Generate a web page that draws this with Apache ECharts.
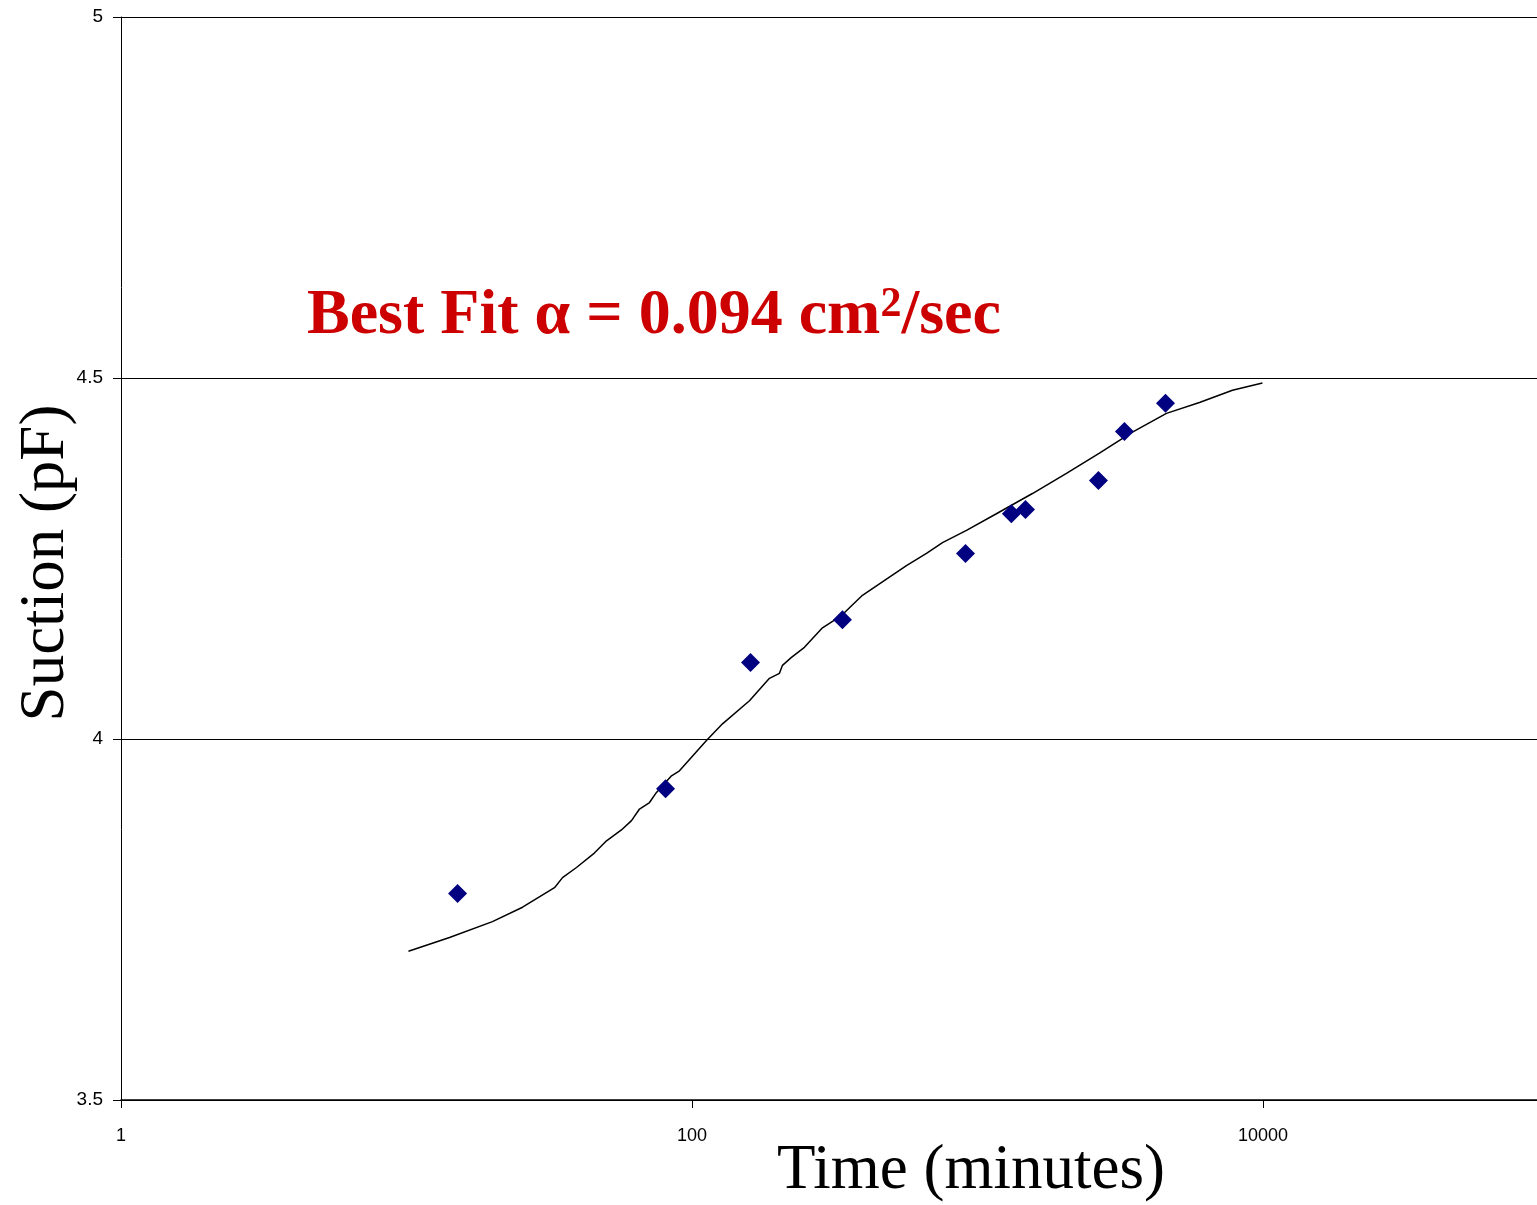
<!DOCTYPE html>
<html>
<head>
<meta charset="utf-8">
<script src="https://cdn.jsdelivr.net/npm/echarts@6/dist/echarts.min.js"></script>
<style>
  html, body { margin: 0; padding: 0; background: #fff; }
  #chart { width: 1537px; height: 1205px; }
</style>
</head>
<body>
<div id="chart"></div>
<script>
// ---- Data ----
const xTickLabels = [1, 100, 10000];
const yTickLabels = [3.5, 4, 4.5, 5];

// Measured suction points (time in minutes, suction in pF)
const obsTime    = [15.1, 80.8, 160.3, 336.6, 908, 1315, 1473, 2653, 3273, 4557];
const obsSuction = [3.786, 3.931, 4.106, 4.165, 4.257, 4.312, 4.318, 4.358, 4.426, 4.465];

// Best-fit model curve
const fitTime = [10.16, 14.15, 20.0, 25.5, 33.0, 35.2, 39.4, 45.5, 50.2, 56.6, 61.4, 65.5, 71.0, 75.1,
  84.8, 90.4, 112.4, 127.9, 159.0, 186.8, 202.5, 207.5, 223.1, 247.7, 286.5, 333.9, 395.5, 453.6,
  564.0, 662.8, 754.3, 915.2, 1165, 1558, 2050, 2675, 3491, 4592, 5993, 7820, 9959];
const fitSuction = [3.706, 3.725, 3.747, 3.767, 3.794, 3.808, 3.822, 3.842, 3.859, 3.874, 3.887, 3.903, 3.912, 3.926,
  3.949, 3.956, 3.998, 4.021, 4.053, 4.084, 4.091, 4.102, 4.113, 4.127, 4.154, 4.171, 4.199, 4.215,
  4.240, 4.257, 4.272, 4.289, 4.312, 4.340, 4.368, 4.396, 4.425, 4.451, 4.466, 4.483, 4.493];

const xTitle = 'Time (minutes)';
const yTitle = 'Suction (pF)';

// ---- Build ----
const chart = echarts.init(document.getElementById('chart'), null, { renderer: 'canvas' });

const obsData = obsTime.map((t, i) => [t, obsSuction[i]]);
const fitData = fitTime.map((t, i) => [t, fitSuction[i]]);

const option = {
  backgroundColor: '#ffffff',
  animation: false,
  grid: { left: 121, right: 0, top: 17, bottom: 105, containLabel: false },
  xAxis: {
    type: 'log',
    logBase: 10,
    min: 1,
    max: 91200,
    interval: 2,
    axisLine: { show: true, lineStyle: { color: '#000', width: 1.5 } },
    axisTick: { show: true, inside: false, length: 8, lineStyle: { color: '#000', width: 1 } },
    minorTick: { show: false },
    splitLine: { show: false },
    axisLabel: {
      show: true,
      margin: 27,
      showMaxLabel: false,
      color: '#000',
      fontSize: 18,
      fontFamily: "'Liberation Sans Narrow', 'Liberation Sans', Arial, sans-serif",
      formatter: function (v) {
        const r = Math.round(v);
        return xTickLabels.indexOf(r) >= 0 ? String(r) : '';
      }
    }
  },
  yAxis: {
    type: 'value',
    min: 3.5,
    max: 5,
    interval: 0.5,
    axisLine: { show: true, lineStyle: { color: '#000', width: 1 } },
    axisTick: { show: true, inside: false, length: 8, lineStyle: { color: '#000', width: 1 } },
    splitLine: { show: true, lineStyle: { color: '#000', width: 1 } },
    axisLabel: {
      margin: 18,
      color: '#000',
      fontSize: 19,
      fontFamily: "'Liberation Sans', Arial, sans-serif",
      formatter: function (v) {
        const r = Math.round(v * 10) / 10;
        return yTickLabels.indexOf(r) >= 0 ? String(r) : '';
      }
    }
  },
  series: [
    {
      name: 'Best fit',
      type: 'line',
      data: fitData,
      showSymbol: false,
      symbol: 'none',
      smooth: false,
      lineStyle: { color: '#000', width: 1.5 },
      z: 2
    },
    {
      name: 'Measured',
      type: 'scatter',
      data: obsData,
      symbol: 'diamond',
      symbolSize: 19,
      itemStyle: { color: '#000080', opacity: 1 },
      z: 3
    }
  ],
  graphic: [
    {
      type: 'text',
      left: 972 - 195,
      top: 1140,
      style: {
        text: xTitle,
        fill: '#000',
        font: "63px 'Liberation Serif', 'Times New Roman', serif"
      }
    },
    {
      type: 'text',
      x: 46,
      y: 563,
      rotation: Math.PI / 2,
      style: {
        text: yTitle,
        fill: '#000',
        font: "63px 'Liberation Serif', 'Times New Roman', serif",
        align: 'center',
        verticalAlign: 'middle'
      }
    },
    {
      type: 'text',
      x: 307,
      y: 284,
      style: {
        text: '{a|Best Fit α = 0.094 cm}{s|2}{a|/sec}',
        rich: {
          a: { fontSize: 64, fontWeight: 'bold', fontFamily: "'Liberation Serif', 'Times New Roman', serif", fill: '#CC0000', color: '#CC0000', verticalAlign: 'bottom' },
          s: { fontSize: 42, fontWeight: 'bold', fontFamily: "'Liberation Serif', 'Times New Roman', serif", fill: '#CC0000', color: '#CC0000', verticalAlign: 'top' }
        }
      }
    }
  ]
};

chart.setOption(option);
</script>
</body>
</html>
